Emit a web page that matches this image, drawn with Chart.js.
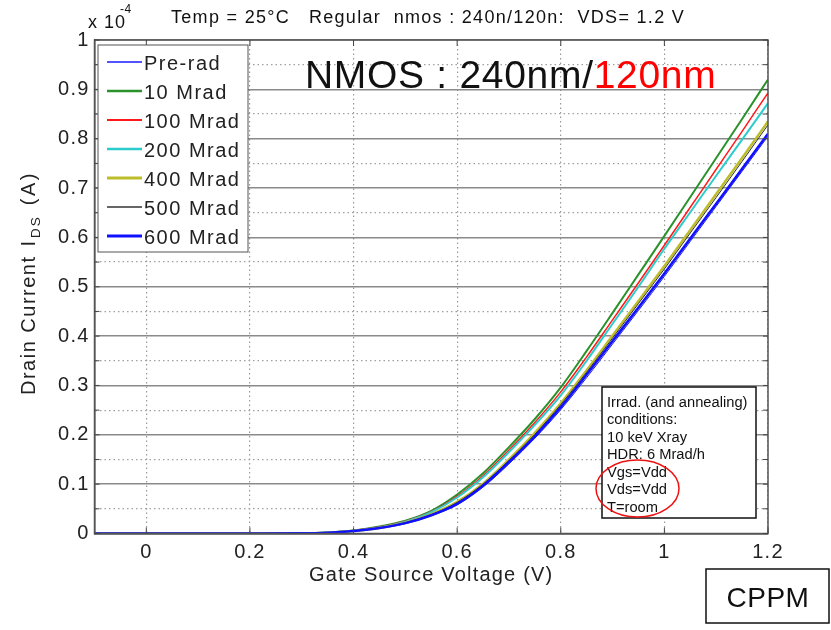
<!DOCTYPE html>
<html>
<head>
<meta charset="utf-8">
<script src="https://cdn.jsdelivr.net/npm/chart.js@4"></script>
<style>
  html, body { margin: 0; padding: 0; background: #fff; }
  #wrap { width: 831px; height: 630px; }
</style>
</head>
<body>
<div id="wrap"><canvas id="c" width="831" height="630"></canvas></div>
<script>
// Gate-source voltage sweep (V)
const vgs = [-0.1, 0, 0.1, 0.2, 0.3, 0.35, 0.4, 0.45, 0.5, 0.55, 0.6, 0.65, 0.7, 0.75, 0.8, 0.85, 0.9, 0.95, 1.0, 1.05, 1.1, 1.15, 1.2];

// Drain current, in units of 1e-4 A
const preRad   = [0, 0, 0, 0, 0.0003, 0.0014, 0.0048, 0.0105, 0.020, 0.036, 0.058, 0.094, 0.141, 0.193, 0.251, 0.316, 0.384, 0.452, 0.521, 0.592, 0.663, 0.734, 0.805];
const mrad10   = [0, 0, 0, 0, 0.0005, 0.0020, 0.0060, 0.0140, 0.026, 0.046, 0.079, 0.122, 0.175, 0.232, 0.296, 0.370, 0.447, 0.525, 0.603, 0.682, 0.761, 0.840, 0.920];
const mrad100  = [0, 0, 0, 0, 0.0005, 0.0020, 0.0060, 0.0130, 0.025, 0.044, 0.075, 0.117, 0.169, 0.225, 0.287, 0.358, 0.433, 0.508, 0.584, 0.661, 0.738, 0.815, 0.893];
const mrad200  = [0, 0, 0, 0, 0.0004, 0.0018, 0.0055, 0.0120, 0.024, 0.043, 0.073, 0.114, 0.165, 0.220, 0.280, 0.350, 0.425, 0.500, 0.577, 0.651, 0.725, 0.798, 0.872];
const mrad400  = [0, 0, 0, 0, 0.0004, 0.0016, 0.0050, 0.0110, 0.022, 0.039, 0.064, 0.101, 0.150, 0.204, 0.264, 0.331, 0.401, 0.471, 0.542, 0.615, 0.688, 0.761, 0.835];
const mrad500  = [0, 0, 0, 0, 0.0004, 0.0016, 0.0050, 0.0110, 0.022, 0.038, 0.063, 0.100, 0.148, 0.201, 0.261, 0.327, 0.396, 0.466, 0.536, 0.609, 0.681, 0.754, 0.828];
const mrad600  = [0, 0, 0, 0, 0.0003, 0.0015, 0.0050, 0.0110, 0.021, 0.037, 0.060, 0.097, 0.145, 0.197, 0.256, 0.322, 0.390, 0.458, 0.527, 0.598, 0.668, 0.739, 0.810];

const seriesNames = ['Pre-rad', '10 Mrad', '100 Mrad', '200 Mrad', '400 Mrad', '500 Mrad', '600 Mrad'];
const seriesValues = [preRad, mrad10, mrad100, mrad200, mrad400, mrad500, mrad600];
const seriesColors = ['#1a1aff', '#2a922a', '#ff1a1a', '#2ccccc', '#bdbd2a', '#333333', '#1010ff'];
const seriesWidths = [1, 2, 1.5, 2, 2.5, 1, 2.5];

// Axis ticks
const xTickValues = [0, 0.2, 0.4, 0.6, 0.8, 1, 1.2];
const xTickLabels = ['0', '0.2', '0.4', '0.6', '0.8', '1', '1.2'];
const yTickValues = [0, 0.1, 0.2, 0.3, 0.4, 0.5, 0.6, 0.7, 0.8, 0.9, 1];
const yTickLabels = ['0', '0.1', '0.2', '0.3', '0.4', '0.5', '0.6', '0.7', '0.8', '0.9', '1'];
const yMinorValues = [0.05, 0.15, 0.25, 0.35, 0.45, 0.55, 0.65, 0.75, 0.85, 0.95];

const titleText = 'Temp = 25°C   Regular  nmos : 240n/120n:  VDS= 1.2 V';
const noteLines = ['Irrad. (and annealing)', 'conditions:', '10 keV Xray', 'HDR: 6 Mrad/h', 'Vgs=Vdd', 'Vds=Vdd', 'T=room'];

const FONT = '"Liberation Sans", Arial, sans-serif';
const SPACING = '1.2px';

const isMinor = v => yMinorValues.some(m => Math.abs(m - v) < 1e-9);

const datasets = seriesNames.map((name, i) => ({
  label: name,
  data: vgs.map((x, k) => ({ x: x, y: seriesValues[i][k] })),
  borderColor: seriesColors[i],
  backgroundColor: seriesColors[i],
  borderWidth: seriesWidths[i],
  pointRadius: 0,
  fill: false,
  cubicInterpolationMode: 'monotone',
  order: seriesNames.length - i
}));

function text(ctx, s, x, y, size, color, align, spacing) {
  ctx.save();
  ctx.font = size + 'px ' + FONT;
  ctx.fillStyle = color;
  ctx.textAlign = align || 'left';
  ctx.textBaseline = 'alphabetic';
  ctx.letterSpacing = spacing || '0px';
  ctx.fillText(s, x, y);
  const w = ctx.measureText(s).width;
  ctx.restore();
  return w;
}

const decor = {
  id: 'decor',
  beforeUpdate(chart) { chart.ctx.letterSpacing = SPACING; },
  beforeLayout(chart) { chart.ctx.letterSpacing = SPACING; },
  beforeDraw(chart) { chart.ctx.letterSpacing = SPACING; },
  afterDatasetsDraw(chart) {
    const ctx = chart.ctx, a = chart.chartArea;
    const xs = chart.scales.x, ys = chart.scales.y;
    ctx.save();
    ctx.letterSpacing = '0px';
    // plot frame
    ctx.strokeStyle = '#555';
    ctx.lineWidth = 1.5;
    ctx.strokeRect(a.left, a.top, a.right - a.left, a.bottom - a.top);
    // inward tick marks
    ctx.lineWidth = 1;
    ctx.strokeStyle = '#444';
    ctx.beginPath();
    xTickValues.forEach(v => {
      const px = xs.getPixelForValue(v);
      ctx.moveTo(px, a.bottom); ctx.lineTo(px, a.bottom - 6);
      ctx.moveTo(px, a.top); ctx.lineTo(px, a.top + 6);
    });
    yTickValues.concat(yMinorValues).forEach(v => {
      const py = ys.getPixelForValue(v);
      ctx.moveTo(a.left, py); ctx.lineTo(a.left + 5, py);
      ctx.moveTo(a.right, py); ctx.lineTo(a.right - 5, py);
    });
    ctx.stroke();

    // legend
    const lx = a.left + 3.5, ly = 45, lw = 150, lh = 207;
    ctx.fillStyle = '#fff';
    ctx.fillRect(lx, ly, lw, lh);
    ctx.strokeStyle = '#555';
    ctx.lineWidth = 1;
    ctx.strokeRect(lx, ly, lw, lh);
    chart.data.datasets.forEach((ds, i) => {
      const ry = 62 + i * 29;
      ctx.strokeStyle = ds.borderColor;
      ctx.lineWidth = ds.borderWidth + 0.5;
      ctx.beginPath();
      ctx.moveTo(lx + 9, ry); ctx.lineTo(lx + 44, ry);
      ctx.stroke();
      text(ctx, ds.label, lx + 46, ry + 7.5, 20, '#222', 'left', '1.5px');
    });

    // irradiation conditions note
    ctx.fillStyle = '#fff';
    ctx.fillRect(602, 387, 154, 131);
    ctx.strokeStyle = '#111';
    ctx.lineWidth = 1.5;
    ctx.strokeRect(602, 387, 154, 131);
    noteLines.forEach((s, i) => text(ctx, s, 607, 406.5 + i * 17.5, 14.7, '#111', 'left', '0px'));
    ctx.strokeStyle = '#ee1111';
    ctx.lineWidth = 1.5;
    ctx.beginPath();
    ctx.ellipse(637.5, 488.5, 41.5, 28.5, 0, 0, Math.PI * 2);
    ctx.stroke();
    ctx.restore();
  },
  afterDraw(chart) {
    const ctx = chart.ctx;
    ctx.save();
    // header line
    text(ctx, titleText, 171, 23, 18, '#111', 'left', '1.3px');
    // axis multiplier
    text(ctx, 'x 10', 88, 28, 18, '#111', 'left', '1px');
    text(ctx, '-4', 120, 13, 12, '#111', 'left', '0.5px');
    // device label
    const w = text(ctx, 'NMOS : 240nm/', 305, 88, 39, '#111', 'left', '0.7px');
    text(ctx, '120nm', 305 + w, 88, 39, '#ff0000', 'left', '0.7px');

    // rotated y-axis title with subscript
    ctx.translate(35, 395);
    ctx.rotate(-Math.PI / 2);
    let x = 0;
    x += text(ctx, 'Drain Current', x, 0, 20, '#222', 'left', '1.5px');
    x += 9;
    x += text(ctx, 'I', x, 0, 20, '#222', 'left', '1px');
    const d = text(ctx, 'DS', x + 2, 5, 13.5, '#222', 'left', '2px');
    text(ctx, '(A)', x + d + 12, 0, 20, '#222', 'left', '2.5px');
    ctx.restore();

    // lab tag
    ctx.save();
    ctx.strokeStyle = '#111';
    ctx.lineWidth = 1.5;
    ctx.strokeRect(706, 569, 123, 54);
    text(ctx, 'CPPM', 768, 607, 28, '#111', 'center', '0.5px');
    ctx.restore();
  }
};

new Chart(document.getElementById('c'), {
  type: 'line',
  data: { datasets: datasets },
  options: {
    responsive: false,
    animation: false,
    devicePixelRatio: 1,
    layout: { padding: { top: 40, right: 63, left: 0, bottom: 0 } },
    plugins: { legend: { display: false }, title: { display: false }, tooltip: { enabled: false } },
    elements: { line: { tension: 0 } },
    scales: {
      x: {
        type: 'linear',
        min: -0.1,
        max: 1.2,
        afterBuildTicks: s => { s.ticks = xTickValues.map(v => ({ value: v })); },
        afterFit: s => { s.height = 96.5; },
        ticks: {
          autoSkip: false,
          maxRotation: 0,
          padding: 7,
          color: '#222',
          font: { family: FONT, size: 20 },
          callback: v => { const i = xTickValues.findIndex(t => Math.abs(t - v) < 1e-9); return i < 0 ? '' : xTickLabels[i]; }
        },
        grid: { drawTicks: false, color: '#9a9a9a', lineWidth: 1.2, borderDash: [1.5, 3] },
        border: { color: '#444', width: 1.5, dash: c => (c.tick ? [1.5, 3] : []) },
        title: { display: true, text: 'Gate Source Voltage (V)', color: '#222', font: { family: FONT, size: 20 }, padding: { top: 0, bottom: 43 } }
      },
      y: {
        type: 'linear',
        min: 0,
        max: 1,
        afterBuildTicks: s => { s.ticks = yTickValues.concat(yMinorValues).sort((p, q) => p - q).map(v => ({ value: v })); },
        afterFit: s => { s.width = 94.5; },
        ticks: {
          autoSkip: false,
          padding: 5,
          color: '#222',
          font: { family: FONT, size: 20 },
          callback: v => { const i = yTickValues.findIndex(t => Math.abs(t - v) < 1e-9); return i < 0 ? '' : yTickLabels[i]; }
        },
        grid: {
          drawTicks: false,
          color: c => (c.tick && isMinor(c.tick.value) ? '#a0a0a0' : '#8a8a8a'),
          lineWidth: c => (c.tick && isMinor(c.tick.value) ? 1.2 : 1.6),
          borderDash: c => (c.tick && isMinor(c.tick.value) ? [1.5, 3] : [])
        },
        border: { color: '#444', width: 1.5, dash: c => (c.tick && isMinor(c.tick.value) ? [1.5, 3] : []) }
      }
    }
  },
  plugins: [decor]
});
</script>
</body>
</html>
